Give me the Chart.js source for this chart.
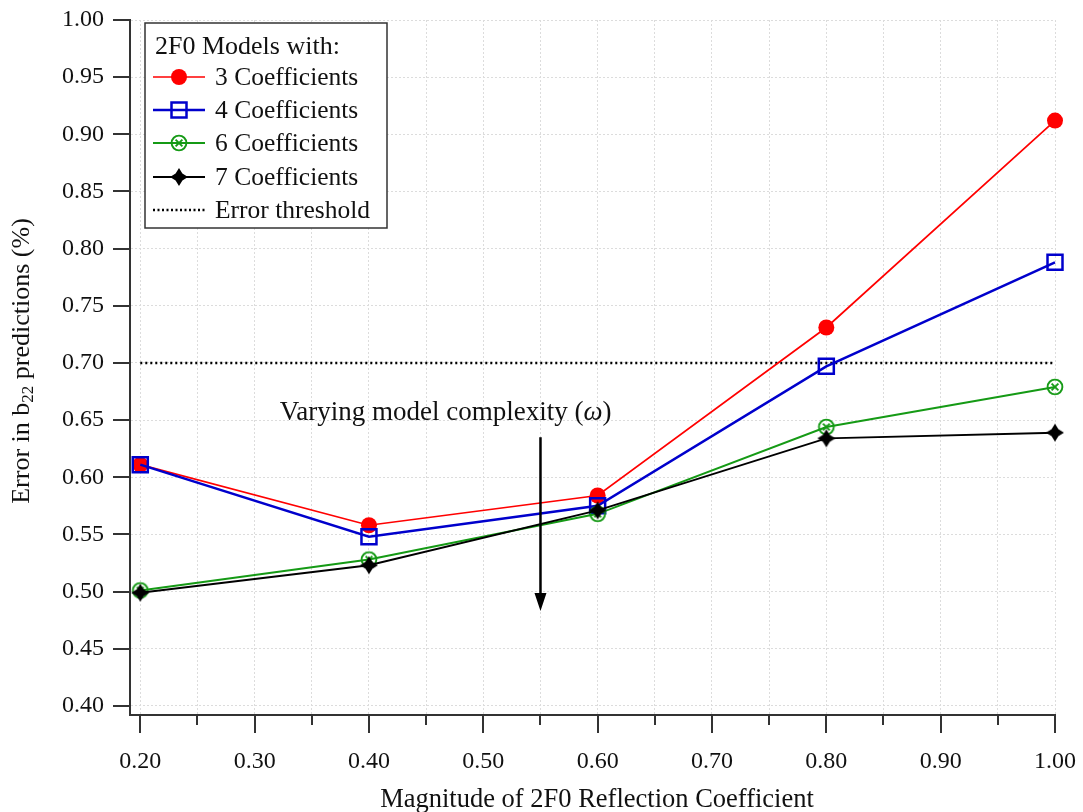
<!DOCTYPE html>
<html>
<head>
<meta charset="utf-8">
<script src="https://cdn.jsdelivr.net/npm/chart.js@4.4.1/dist/chart.umd.min.js"></script>
<style>
  html, body { margin: 0; padding: 0; background: #fff; }
  #wrap { width: 1083px; height: 812px; position: relative; }
</style>
</head>
<body>
<div id="wrap"><canvas id="chart" width="1083" height="812"></canvas></div>
<script>
// Reflection coefficient magnitudes (x values)
const magnitudes = [0.20, 0.40, 0.60, 0.80, 1.00];

// Error in b22 predictions (%) for each model size
const coeff3 = [0.611, 0.558, 0.584, 0.731, 0.912];
const coeff4 = [0.611, 0.548, 0.575, 0.697, 0.788];
const coeff6 = [0.501, 0.528, 0.568, 0.644, 0.679];
const coeff7 = [0.499, 0.523, 0.571, 0.634, 0.639];

// Error threshold level and its extent
const thresholdX = [0.20, 1.00];
const thresholdY = [0.70, 0.70];

// Axis tick values
const xTickValues = [0.20, 0.25, 0.30, 0.35, 0.40, 0.45, 0.50, 0.55, 0.60, 0.65, 0.70, 0.75, 0.80, 0.85, 0.90, 0.95, 1.00];
const xMajorLabels = ['0.20', '0.30', '0.40', '0.50', '0.60', '0.70', '0.80', '0.90', '1.00'];
const yTickValues = [0.40, 0.45, 0.50, 0.55, 0.60, 0.65, 0.70, 0.75, 0.80, 0.85, 0.90, 0.95, 1.00];

// Series names
const seriesNames = ['3 Coefficients', '4 Coefficients', '6 Coefficients', '7 Coefficients', 'Error threshold'];
const legendTitle = '2F0 Models with:';

// Arrow annotation: x position, top and bottom in data units
const arrowX = 0.55;
const arrowTop = 0.635;
const arrowBottom = 0.483;
const arrowLabelX = 0.467;
const arrowLabelY = 0.656;

const SERIF = '"Liberation Serif", "DejaVu Serif", serif';
const RED = '#ff0000', BLUE = '#0000cc', GREEN = '#159a15', BLACK = '#000000';

const pts = (ys) => magnitudes.map((x, i) => ({ x: x, y: ys[i] }));

// Marker glyphs drawn once into small canvases
function makeCanvas(size, draw) {
  const c = document.createElement('canvas');
  c.width = size; c.height = size;
  const g = c.getContext('2d');
  draw(g, size / 2);
  return c;
}
const circleCross = makeCanvas(20, (g, c) => {
  g.strokeStyle = GREEN; g.lineWidth = 1.9;
  g.beginPath(); g.arc(c, c, 7.4, 0, Math.PI * 2); g.stroke();
  const d = 3.4;
  g.beginPath();
  g.moveTo(c - d, c - d); g.lineTo(c + d, c + d);
  g.moveTo(c + d, c - d); g.lineTo(c - d, c + d);
  g.stroke();
});
const star4 = makeCanvas(22, (g, c) => {
  const R = 9, r = 3.4;
  g.fillStyle = BLACK;
  g.beginPath();
  g.moveTo(c, c - R);
  g.lineTo(c + r, c - r);
  g.lineTo(c + R, c);
  g.lineTo(c + r, c + r);
  g.lineTo(c, c + R);
  g.lineTo(c - r, c + r);
  g.lineTo(c - R, c);
  g.lineTo(c - r, c - r);
  g.closePath();
  g.fill();
});

const AREA = { left: 130, right: 1055, top: 20, bottom: 715 };

// Tick marks, legend, axis titles and the arrow annotation
const decorations = {
  id: 'decorations',
  afterDatasetsDraw(chart) {
    const ctx = chart.ctx;
    const xs = chart.scales.x, ys = chart.scales.y;
    const ca = chart.chartArea;
    ctx.save();

    // tick marks
    ctx.strokeStyle = '#333'; ctx.lineWidth = 2;
    yTickValues.forEach(v => {
      const py = Math.round(ys.getPixelForValue(v));
      ctx.beginPath(); ctx.moveTo(ca.left - 17, py); ctx.lineTo(ca.left, py); ctx.stroke();
    });
    xTickValues.forEach(v => {
      const px = Math.round(xs.getPixelForValue(v));
      const major = xMajorLabels.includes(v.toFixed(2));
      ctx.beginPath(); ctx.moveTo(px, ca.bottom); ctx.lineTo(px, ca.bottom + (major ? 18 : 10)); ctx.stroke();
    });

    // arrow
    const ax = xs.getPixelForValue(arrowX);
    const at = ys.getPixelForValue(arrowTop);
    const ab = ys.getPixelForValue(arrowBottom);
    ctx.strokeStyle = BLACK; ctx.fillStyle = BLACK; ctx.lineWidth = 2.5;
    ctx.beginPath(); ctx.moveTo(ax, at); ctx.lineTo(ax, ab - 14); ctx.stroke();
    ctx.beginPath();
    ctx.moveTo(ax, ab); ctx.lineTo(ax - 6, ab - 18); ctx.lineTo(ax + 6, ab - 18); ctx.closePath(); ctx.fill();

    // arrow label
    const lx = xs.getPixelForValue(arrowLabelX);
    const ly = ys.getPixelForValue(arrowLabelY);
    const FS = 27;
    ctx.textBaseline = 'middle';
    const t1 = 'Varying model complexity (';
    const t2 = '\u03c9';
    const t3 = ')';
    ctx.font = FS + 'px ' + SERIF; const w1 = ctx.measureText(t1).width, w3 = ctx.measureText(t3).width;
    ctx.font = 'italic ' + FS + 'px ' + SERIF; const w2 = ctx.measureText(t2).width;
    let sx = lx - (w1 + w2 + w3) / 2;
    ctx.textAlign = 'left';
    ctx.fillStyle = '#111';
    ctx.font = FS + 'px ' + SERIF; ctx.fillText(t1, sx, ly); sx += w1;
    ctx.font = 'italic ' + FS + 'px ' + SERIF; ctx.fillText(t2, sx, ly); sx += w2;
    ctx.font = FS + 'px ' + SERIF; ctx.fillText(t3, sx, ly);

    ctx.restore();
  },
  afterDraw(chart) {
    const ctx = chart.ctx;
    ctx.save();

    // legend box
    const bx = 145, by = 23, bw = 242, bh = 205;
    ctx.fillStyle = '#fff';
    ctx.fillRect(bx, by, bw, bh);
    ctx.strokeStyle = '#333'; ctx.lineWidth = 1.5;
    ctx.strokeRect(bx, by, bw, bh);

    ctx.fillStyle = '#111';
    ctx.font = '26px ' + SERIF;
    ctx.textAlign = 'left'; ctx.textBaseline = 'middle';
    ctx.fillText(legendTitle, 155, 47);

    ctx.font = '25.5px ' + SERIF;
    const rows = [77, 110, 143, 177, 210];
    const lineColors = [RED, BLUE, GREEN, BLACK, BLACK];
    const lineWidths = [1.5, 2.5, 2, 2, 2.5];
    rows.forEach((ry, i) => {
      ctx.strokeStyle = lineColors[i];
      ctx.lineWidth = lineWidths[i];
      if (i === 4) ctx.setLineDash([2, 2.5]); else ctx.setLineDash([]);
      ctx.beginPath(); ctx.moveTo(153, ry); ctx.lineTo(205, ry); ctx.stroke();
      ctx.setLineDash([]);
      const mx = 179;
      if (i === 0) {
        ctx.fillStyle = RED; ctx.beginPath(); ctx.arc(mx, ry, 8, 0, Math.PI * 2); ctx.fill();
      } else if (i === 1) {
        ctx.strokeStyle = BLUE; ctx.lineWidth = 2.5; ctx.strokeRect(mx - 7.5, ry - 7.5, 15, 15);
      } else if (i === 2) {
        ctx.drawImage(circleCross, mx - 10, ry - 10);
      } else if (i === 3) {
        ctx.drawImage(star4, mx - 11, ry - 11);
      }
      ctx.fillStyle = '#111';
      ctx.fillText(seriesNames[i], 215, ry + 1);
    });

    // x axis title
    ctx.fillStyle = '#111';
    ctx.font = '26.5px ' + SERIF;
    ctx.textAlign = 'center'; ctx.textBaseline = 'middle';
    ctx.fillText('Magnitude of 2F0 Reflection Coefficient', 597, 800);

    // rotated y title with subscript
    ctx.translate(22, 361);
    ctx.rotate(-Math.PI / 2);
    const a = 'Error in b', sub = '22', b = ' predictions (%)';
    const YF = 26, SF = 17;
    ctx.font = YF + 'px ' + SERIF; const wa = ctx.measureText(a).width, wb = ctx.measureText(b).width;
    ctx.font = SF + 'px ' + SERIF; const ws = ctx.measureText(sub).width;
    let tx = -(wa + ws + wb) / 2;
    ctx.textAlign = 'left';
    ctx.font = YF + 'px ' + SERIF; ctx.fillText(a, tx, 0); tx += wa;
    ctx.font = SF + 'px ' + SERIF; ctx.fillText(sub, tx, 7); tx += ws;
    ctx.font = YF + 'px ' + SERIF; ctx.fillText(b, tx, 0);

    ctx.restore();
  }
};

// Keep the plot area exactly inside the layout padding
function noScalePadding(s) {
  s.paddingLeft = 0; s.paddingRight = 0; s.paddingTop = 0; s.paddingBottom = 0;
}

new Chart(document.getElementById('chart'), {
  type: 'line',
  data: {
    datasets: [
      { label: seriesNames[0], data: pts(coeff3), borderColor: RED, backgroundColor: RED, borderWidth: 1.7,
        pointStyle: 'circle', pointRadius: 8, pointBorderWidth: 0, pointBackgroundColor: RED, order: 4, clip: false },
      { label: seriesNames[1], data: pts(coeff4), borderColor: BLUE, backgroundColor: 'rgba(0,0,0,0)', borderWidth: 2.5,
        pointStyle: 'rect', pointRadius: 10.6, pointBorderWidth: 2.5, pointBackgroundColor: 'rgba(0,0,0,0)', order: 3, clip: false },
      { label: seriesNames[2], data: pts(coeff6), borderColor: GREEN, backgroundColor: GREEN, borderWidth: 2,
        pointStyle: circleCross, pointRadius: 10, order: 2, clip: false },
      { label: seriesNames[3], data: pts(coeff7), borderColor: BLACK, backgroundColor: BLACK, borderWidth: 2,
        pointStyle: star4, pointRadius: 11, order: 1, clip: false },
      { label: seriesNames[4], data: thresholdX.map((x, i) => ({ x: x, y: thresholdY[i] })), borderColor: BLACK,
        borderWidth: 2.5, borderDash: [2, 3], pointRadius: 0, order: 5, clip: false }
    ]
  },
  options: {
    responsive: false,
    animation: false,
    devicePixelRatio: 1,
    layout: { padding: { left: 0, right: 1083 - AREA.right, top: AREA.top, bottom: 0 } },
    plugins: { legend: { display: false }, tooltip: { enabled: false }, title: { display: false } },
    elements: { line: { tension: 0 } },
    scales: {
      x: {
        type: 'linear',
        min: 0.191, max: 1.0,
        afterBuildTicks: (s) => { s.ticks = xTickValues.map(v => ({ value: v })); },
        afterFit: (s) => { s.height = 812 - AREA.bottom; noScalePadding(s); },
        ticks: {
          autoSkip: false, maxRotation: 0, padding: 32,
          color: '#111',
          font: { family: SERIF, size: 24 },
          callback: (v) => { const t = Number(v).toFixed(2); return xMajorLabels.includes(t) ? t : ''; }
        },
        grid: { color: '#dcdcdc', lineWidth: 1, drawTicks: false },
        border: { display: true, color: '#333', width: 2, dash: [2, 2] }
      },
      y: {
        type: 'linear',
        min: 0.392, max: 1.0,
        afterBuildTicks: (s) => { s.ticks = yTickValues.map(v => ({ value: v })); },
        afterFit: (s) => { s.width = AREA.left; noScalePadding(s); },
        ticks: {
          autoSkip: false, padding: 26,
          color: '#111',
          font: { family: SERIF, size: 24 },
          callback: (v) => Number(v).toFixed(2)
        },
        grid: { color: '#dcdcdc', lineWidth: 1, drawTicks: false },
        border: { display: true, color: '#333', width: 2, dash: [2, 2] }
      }
    }
  },
  plugins: [decorations]
});
</script>
</body>
</html>
